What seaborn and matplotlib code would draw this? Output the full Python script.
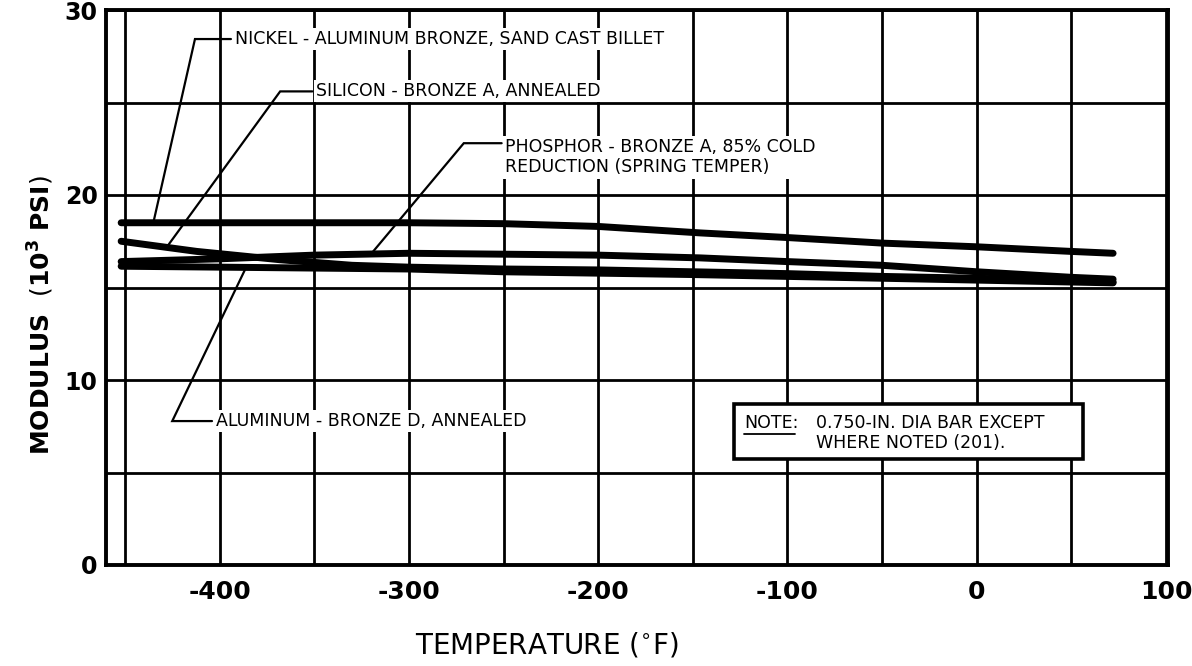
import numpy as np
import pandas as pd
import matplotlib
matplotlib.use("Agg")
import matplotlib.pyplot as plt
from matplotlib.patches import Rectangle
import seaborn as sns

# ---- data: elastic modulus (10^3 psi) vs temperature (deg F) ----
temp_nickel = [-452, -400, -350, -300, -250, -200, -146, -100, -50, 0, 50, 72]
mod_nickel = [18.5, 18.5, 18.5, 18.5, 18.45, 18.3, 17.95, 17.7, 17.4, 17.2, 16.95, 16.85]

temp_silicon = [-452, -412, -368, -330, -300, -250, -200, -150, -100, -50, 0, 50, 72]
mod_silicon = [17.5, 16.95, 16.5, 16.2, 16.1, 16.0, 15.95, 15.85, 15.75, 15.6, 15.5, 15.35, 15.3]

temp_phosphor = [-452, -400, -350, -300, -250, -200, -146, -100, -50, 0, 50, 72]
mod_phosphor = [16.4, 16.55, 16.75, 16.85, 16.8, 16.75, 16.6, 16.4, 16.2, 15.85, 15.55, 15.45]

temp_albronze = [-452, -400, -300, -250, -150, -50, 0, 72]
mod_albronze = [16.15, 16.1, 16.0, 15.85, 15.7, 15.5, 15.4, 15.25]

x_ticks = [-400, -300, -200, -100, 0, 100]
y_ticks = [0, 10, 20, 30]

label_nickel = "NICKEL - ALUMINUM BRONZE, SAND CAST BILLET"
label_silicon = "SILICON - BRONZE A, ANNEALED"
label_phosphor = "PHOSPHOR - BRONZE A, 85% COLD\nREDUCTION (SPRING TEMPER)"
label_albronze = "ALUMINUM - BRONZE D, ANNEALED"

sns.set_style("white")
plt.rcParams["font.family"] = ["DejaVu Sans"]
plt.rcParams["text.color"] = "black"
plt.rcParams["xtick.color"] = "black"
plt.rcParams["ytick.color"] = "black"

fig = plt.figure(figsize=(11.92, 6.66), dpi=100)
ax = fig.add_axes([106 / 1192, 1 - 565 / 666, (1168 - 106) / 1192, (565 - 10) / 666])

curves = [
    (temp_nickel, mod_nickel),
    (temp_silicon, mod_silicon),
    (temp_phosphor, mod_phosphor),
    (temp_albronze, mod_albronze),
]
for t, m in curves:
    sns.lineplot(x=t, y=m, ax=ax, color="black", lw=5.0, zorder=4,
                 solid_capstyle="round", sort=True, estimator=None)

ax.set_xlim(-460, 101)
ax.set_ylim(0, 30)
ax.set_xticks(x_ticks)
ax.set_xticks(np.arange(-450, 100, 50), minor=True)
ax.set_yticks(y_ticks)
ax.set_yticks([5, 15, 25], minor=True)
ax.grid(True, which="both", color="black", lw=2.0, zorder=1)
ax.set_axisbelow(True)
for s in ax.spines.values():
    s.set_linewidth(2.8)
    s.set_color("black")
    s.set_zorder(6)
ax.tick_params(which="both", length=0)
ax.set_xticklabels([str(v) for v in x_ticks])
ax.tick_params(axis="x", pad=11, labelsize=18, labelcolor="black")
ax.tick_params(axis="y", pad=6, labelsize=17, labelcolor="black")
for lab in ax.get_xticklabels() + ax.get_yticklabels():
    lab.set_fontweight("bold")

fig.text(0.034, 0.527, r"MODULUS  $\left(\mathbf{10^{3}\ PSI}\right)$", rotation=90,
         ha="center", va="center", fontsize=18, fontweight="bold", color="black")
fig.text(0.459, 0.032, r"TEMPERATURE ($^{\circ}$F)", ha="center", va="center",
         fontsize=20, color="black")

# ---- leader lines with their labels ----
label_kw = dict(fontsize=12.5, color="black", zorder=5,
                bbox=dict(facecolor="white", edgecolor="none", pad=1.5))


def leader(temps, mods, x_tip, x_elbow, y_elbow, x_end, text, va="center", dy=0.0):
    y_tip = float(np.interp(x_tip, temps, mods))
    ax.plot([x_tip, x_elbow, x_end], [y_tip, y_elbow, y_elbow], color="black",
            lw=1.6, zorder=5, solid_joinstyle="miter")
    ax.text(x_end + 2, y_elbow + dy, text, ha="left", va=va, linespacing=1.2, **label_kw)


leader(temp_nickel, mod_nickel, -435, -413, 28.43, -394, label_nickel)
leader(temp_silicon, mod_silicon, -428, -368, 25.6, -351, label_silicon)
leader(temp_phosphor, mod_phosphor, -320, -271, 22.8, -251, label_phosphor, va="top", dy=0.3)
leader(temp_albronze, mod_albronze, -386, -425, 7.78, -404, label_albronze)

# ---- note box ----
ax.add_patch(Rectangle((-128.5, 5.73), 184.5, 2.97, facecolor="white",
                       edgecolor="black", lw=2.6, zorder=5))
note_kw = dict(fontsize=12.5, color="black", zorder=6, va="center", ha="left")
t_note = ax.text(-123, 7.68, "NOTE:", **note_kw)
ax.text(-85, 7.68, "0.750-IN. DIA BAR EXCEPT", **note_kw)
ax.text(-85, 6.62, "WHERE NOTED (201).", **note_kw)
fig.canvas.draw()
bb = t_note.get_window_extent().transformed(ax.transData.inverted())
ax.plot([bb.x0, bb.x1 - 1.5], [bb.y0 - 0.1, bb.y0 - 0.1], color="black", lw=1.3, zorder=6)

fig.savefig("out.png", dpi=100)
